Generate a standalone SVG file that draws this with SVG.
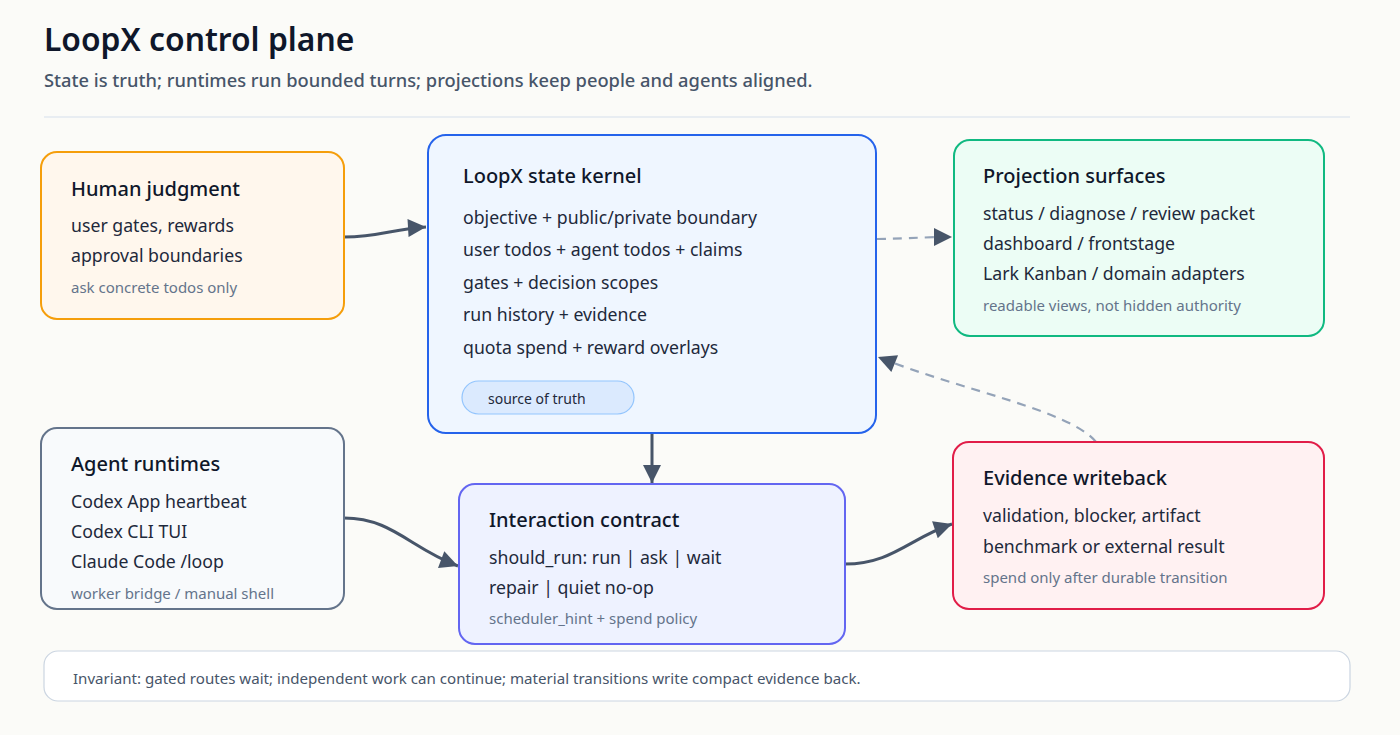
<svg xmlns="http://www.w3.org/2000/svg" width="1400" height="735" viewBox="0 0 1400 735">
<defs>
<style>
text{font-family:"Noto Sans","Open Sans","DejaVu Sans",sans-serif;}
.h1{font-size:31.8px;font-weight:600;fill:#0f172a;}
.sub{font-size:18.3px;font-weight:500;fill:#475569;}
.t{font-size:20px;font-weight:500;fill:#0f172a;}
.l{font-size:17.7px;fill:#1e293b;}
.n{font-size:15px;fill:#64748b;}
.pill{font-size:14px;fill:#1e293b;}
.foot{font-size:15.1px;fill:#475569;}
.solid{fill:none;stroke:#475569;stroke-width:3;}
.dash{fill:none;stroke:#94a3b8;stroke-width:2.2;stroke-dasharray:9 7;}
</style>
<marker id="ad" viewBox="0 0 10 10" refX="10" refY="5" markerWidth="22" markerHeight="18" markerUnits="userSpaceOnUse" orient="auto"><path d="M0,0 L10,5 L0,10 Z" fill="#475569"/></marker>
</defs>
<rect width="1400" height="735" fill="#fbfbf8"/>
<text class="h1" x="44" y="51">LoopX control plane</text>
<text class="sub" x="44" y="87">State is truth; runtimes run bounded turns; projections keep people and agents aligned.</text>
<line x1="44" y1="117" x2="1350" y2="117" stroke="#e2e8f0" stroke-width="1.5"/>

<g id="connectors">
<path class="solid" d="M344,237 C380,237 392,229 426,227" marker-end="url(#ad)"/>
<path class="dash" d="M877,239 C900,239 920,237 952,237" marker-end="url(#ad)"/>
<path class="dash" d="M1096,442 C1070,410 960,390 878,357" marker-end="url(#ad)"/>
<path class="solid" d="M652,433 L652,483" marker-end="url(#ad)"/>
<path class="solid" d="M344,518 C392,518 410,548 458,566" marker-end="url(#ad)"/>
<path class="solid" d="M845,564 C892,564 910,538 952,524" marker-end="url(#ad)"/>
</g>

<g id="human">
<rect x="41" y="152" width="303" height="167" rx="16" fill="#fff7ed" stroke="#f59e0b" stroke-width="2"/>
<text class="t" x="71" y="196">Human judgment</text>
<text class="l" x="71" y="232">user gates, rewards</text>
<text class="l" x="71" y="262">approval boundaries</text>
<text class="n" x="71" y="293">ask concrete todos only</text>
</g>

<g id="kernel">
<rect x="428" y="135" width="448" height="298" rx="18" fill="#eff6ff" stroke="#2563eb" stroke-width="2"/>
<text class="t" x="463" y="183">LoopX state kernel</text>
<text class="l" x="463" y="224">objective + public/private boundary</text>
<text class="l" x="463" y="256">user todos + agent todos + claims</text>
<text class="l" x="463" y="289">gates + decision scopes</text>
<text class="l" x="463" y="321">run history + evidence</text>
<text class="l" x="463" y="354">quota spend + reward overlays</text>
<rect x="462" y="381" width="172" height="33" rx="16.5" fill="#dbeafe" stroke="#93c5fd" stroke-width="1.2"/>
<text class="pill" x="488" y="404">source of truth</text>
</g>

<g id="projection">
<rect x="954" y="140" width="370" height="196" rx="16" fill="#ecfdf5" stroke="#10b981" stroke-width="2"/>
<text class="t" x="983" y="183">Projection surfaces</text>
<text class="l" x="983" y="220">status / diagnose / review packet</text>
<text class="l" x="983" y="250">dashboard / frontstage</text>
<text class="l" x="983" y="280">Lark Kanban / domain adapters</text>
<text class="n" x="983" y="311">readable views, not hidden authority</text>
</g>

<g id="runtimes">
<rect x="41" y="428" width="303" height="181" rx="16" fill="#f8fafc" stroke="#64748b" stroke-width="2"/>
<text class="t" x="71" y="471">Agent runtimes</text>
<text class="l" x="71" y="508">Codex App heartbeat</text>
<text class="l" x="71" y="538">Codex CLI TUI</text>
<text class="l" x="71" y="568">Claude Code /loop</text>
<text class="n" x="71" y="599">worker bridge / manual shell</text>
</g>

<g id="contract">
<rect x="459" y="484" width="386" height="160" rx="16" fill="#eef2ff" stroke="#6366f1" stroke-width="2"/>
<text class="t" x="489" y="527">Interaction contract</text>
<text class="l" x="489" y="564">should_run: run | ask | wait</text>
<text class="l" x="489" y="594">repair | quiet no-op</text>
<text class="n" x="489" y="624">scheduler_hint + spend policy</text>
</g>

<g id="evidence">
<rect x="953" y="442" width="371" height="167" rx="16" fill="#fff1f2" stroke="#e11d48" stroke-width="2"/>
<text class="t" x="983" y="485">Evidence writeback</text>
<text class="l" x="983" y="522">validation, blocker, artifact</text>
<text class="l" x="983" y="553">benchmark or external result</text>
<text class="n" x="983" y="583">spend only after durable transition</text>
</g>

<g id="footer">
<rect x="44" y="651" width="1306" height="50" rx="14" fill="#ffffff" stroke="#cbd5e1" stroke-width="1.2"/>
<text class="foot" x="73" y="684">Invariant: gated routes wait; independent work can continue; material transitions write compact evidence back.</text>
</g>
</svg>
